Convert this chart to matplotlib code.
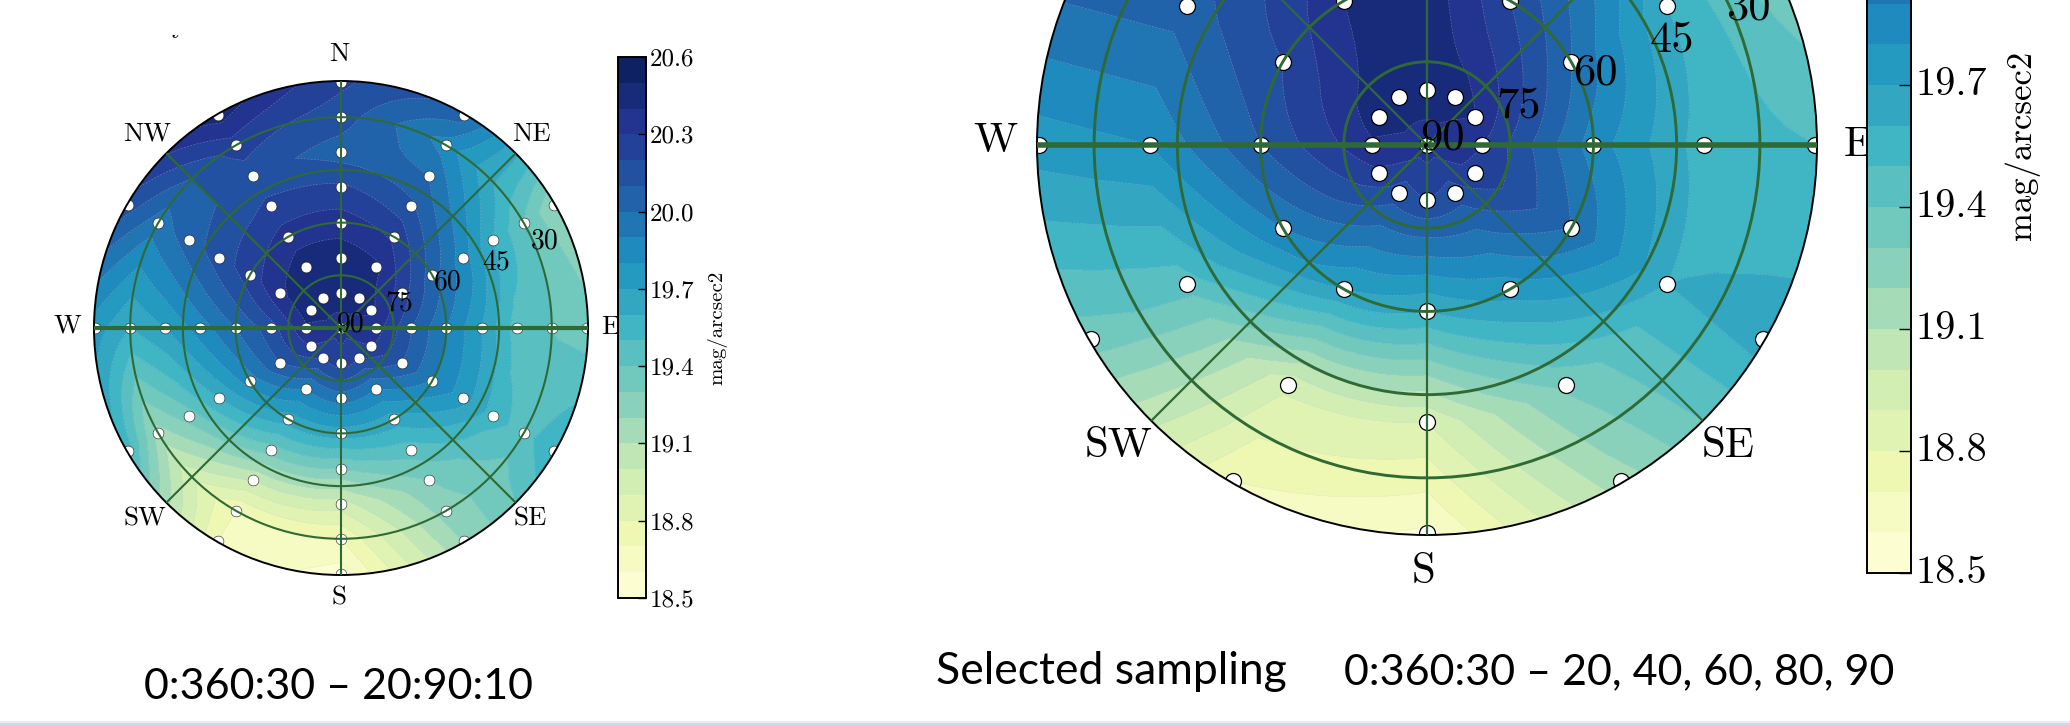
import numpy as np
import matplotlib
matplotlib.use("Agg")
import matplotlib.pyplot as plt
from matplotlib.patches import Rectangle
from matplotlib.transforms import Bbox, ScaledTranslation

W, H = 2070, 726
DPI = 100
SERIF = "cmr10"
plt.rcParams["axes.formatter.use_mathtext"] = True
plt.rcParams["axes.unicode_minus"] = False

azimuths = np.arange(0, 361, 30)
levels = np.round(np.arange(18.5, 20.65, 0.1), 1)
cbar_ticks = [18.5, 18.8, 19.1, 19.4, 19.7, 20.0, 20.3, 20.6]
cbar_labels = ["18.5", "18.8", "19.1", "19.4", "19.7", "20.0", "20.3", "20.6"]
ring_alts = [30, 45, 60, 75, 90]

left_alts = [20, 30, 40, 50, 60, 70, 80]
left_zenith = 20.35
left_values = [
    [20.22, 20.15, 20.05, 20.22, 20.35, 20.46, 20.46],  # 0
    [20.05, 19.85, 20.00, 20.12, 20.28, 20.42, 20.46],  # 30
    [19.20, 19.40, 19.60, 19.85, 20.05, 20.25, 20.42],  # 60
    [19.35, 19.40, 19.45, 19.70, 19.90, 20.10, 20.35],  # 90
    [19.60, 19.45, 19.55, 19.75, 19.90, 20.10, 20.30],  # 120
    [19.20, 19.25, 19.30, 19.45, 19.65, 19.90, 20.20],  # 150
    [18.55, 18.70, 18.95, 19.30, 19.65, 19.95, 20.25],  # 180
    [18.70, 18.70, 19.00, 19.35, 19.65, 19.90, 20.20],  # 210
    [19.55, 19.15, 19.35, 19.60, 19.85, 20.10, 20.30],  # 240
    [19.75, 19.60, 19.70, 19.85, 20.00, 20.15, 20.38],  # 270
    [20.15, 19.95, 20.05, 20.15, 20.25, 20.38, 20.46],  # 300
    [20.45, 20.25, 20.15, 20.22, 20.35, 20.46, 20.46],  # 330
]

right_alts = [20, 40, 60, 80]
right_zenith = 20.35
right_values = [
    [20.20, 20.10, 20.46, 20.46],  # 0
    [19.95, 19.95, 20.20, 20.46],  # 30
    [19.30, 19.60, 20.00, 20.40],  # 60
    [19.50, 19.55, 19.85, 20.30],  # 90
    [19.65, 19.60, 20.00, 20.28],  # 120
    [19.15, 19.32, 19.75, 20.15],  # 150
    [18.58, 18.90, 19.60, 20.20],  # 180
    [18.70, 18.92, 19.70, 20.15],  # 210
    [19.35, 19.45, 19.90, 20.28],  # 240
    [19.75, 19.80, 20.10, 20.38],  # 270
    [20.10, 20.05, 20.20, 20.46],  # 300
    [20.40, 20.20, 20.40, 20.46],  # 330
]


def fx(px):
    return px / W


def fy(py):
    return 1 - py / H


def box(x0, y0, x1, y1):
    return [fx(x0), fy(y1), (x1 - x0) / W, (y1 - y0) / H]


def sky(fig, cx, cy, radius, alts, values, zenith, ms, mew, ring_lw, spoke_lw, ew_lw, fs):
    ax = fig.add_axes(box(cx - radius, cy - radius, cx + radius, cy + radius), projection="polar")
    ax.set_theta_zero_location("N")
    ax.set_theta_direction(-1)
    rmax = 70.3
    zen = np.array([0] + [90 - a for a in alts[::-1]], float)
    rows = np.array(values + [values[0]])[:, ::-1]
    grid = np.column_stack([np.full(len(azimuths), zenith), rows, rows[:, -1]])
    zen_e = np.append(zen, rmax + 0.5)
    # resample along azimuth so that band edges follow the circular rim
    az_fine = np.arange(0, 360.1, 3)
    fine = np.column_stack([np.interp(az_fine, azimuths, grid[:, j]) for j in range(grid.shape[1])])
    T, R = np.meshgrid(np.deg2rad(az_fine), zen_e, indexing="ij")
    cf = ax.contourf(T, R, fine, levels=levels, cmap="YlGnBu", zorder=1)
    ax.contour(T, R, fine, levels=levels, colors="#c8d4e0", linewidths=0.45, alpha=0.4,
               linestyles="--", zorder=1.2)
    th = np.deg2rad(azimuths[:-1])
    ptT, ptR = np.meshgrid(th, zen[1:], indexing="ij")
    ax.plot(ptT.ravel(), ptR.ravel(), "o", mfc="white", mec="black", ms=ms, mew=mew, zorder=2)
    ax.plot([0], [0], "o", mfc="white", mec="black", ms=ms, mew=mew, zorder=2)
    ax.set_ylim(0, rmax)
    ax.set_thetagrids(np.arange(0, 360, 45), labels=[])
    ax.set_rgrids([15, 30, 45, 60], labels=[])
    ax.set_axisbelow(False)
    green = "#2f6a36"
    ax.xaxis.grid(True, color=green, lw=spoke_lw, ls="-")
    ax.yaxis.grid(True, color=green, lw=ring_lw, ls="-")
    for az in (90, 270):
        ax.plot(np.deg2rad([az, az]), [0, rmax], color=green, lw=ew_lw, zorder=3, solid_capstyle="butt")
    ax.spines["polar"].set_linewidth(1.4)
    for alt in ring_alts:
        ax.text(np.deg2rad(67), 90 - alt + 3, str(alt), fontsize=fs, family=SERIF, ha="center", va="center", zorder=4)
    return ax, cf


def colorbar(fig, cf, x0, x1, ytop, ybot, fs, ticklen, label_lift):
    cax = fig.add_axes(box(x0, ytop, x1, ybot), zorder=5)
    cb = fig.colorbar(cf, cax=cax, ticks=cbar_ticks)
    cb.ax.set_yticklabels(cbar_labels, fontsize=fs, family=SERIF)
    cb.ax.tick_params(direction="in", length=ticklen, width=1, pad=3, color="black")
    cb.outline.set_linewidth(1.4)
    cb.ax.minorticks_off()
    lift = ScaledTranslation(0, label_lift / DPI, fig.dpi_scale_trans)
    for lab in cb.ax.get_yticklabels():
        lab.set_transform(lab.get_transform() + lift)
    return cb


fig = plt.figure(figsize=(W / DPI, H / DPI), dpi=DPI, facecolor="white")

_, cf1 = sky(fig, 341, 328, 247, left_alts, left_values, left_zenith, 7.8, 0.35, 1.5, 1.5, 3.0, 20)
_, cf2 = sky(fig, 1427, 145, 390, right_alts, right_values, right_zenith, 11.5, 0.9, 2.1, 1.6, 4.0, 32)

colorbar(fig, cf1, 618, 646, 57, 598, 18, 5.5, 0)
colorbar(fig, cf2, 1867, 1911, -281, 573, 29, 9, 4)

left_dirs = [("N", 339, 54), ("NE", 531, 134), ("E", 610, 327), ("SE", 530, 519), ("S", 339, 598),
             ("SW", 145, 519), ("W", 67, 326), ("NW", 147, 134)]
right_dirs = [("W", 995, 141), ("E", 1858, 145), ("SE", 1728, 446), ("S", 1424, 572), ("SW", 1119, 446)]
for lbl, x, y in left_dirs:
    fig.text(fx(x), fy(y), lbl, fontsize=19.5, family=SERIF, ha="center", va="center", zorder=3)
for lbl, x, y in right_dirs:
    fig.text(fx(x), fy(y), lbl, fontsize=31, family=SERIF, ha="center", va="center", zorder=3)

fig.text(fx(717), fy(328), "mag/arcsec2", rotation=90, fontsize=15, family=SERIF, ha="center", va="center")
fig.text(fx(2022), fy(145), "mag/arcsec2", rotation=90, fontsize=25, family=SERIF, ha="center", va="center",
         fontweight="bold")

fig.text(fx(339), fy(687), "0:360:30 \u2013 20:90:10", fontsize=31, family="Lato", ha="center", va="center")
fig.text(fx(936), fy(672), "Selected sampling", fontsize=32, family="Lato", ha="left", va="center")
fig.text(fx(1894), fy(672), "0:360:30 \u2013 20, 40, 60, 80, 90", fontsize=31, family="Lato", ha="right", va="center")

# tail of a cropped title letter left at the top of the slide
tail = fig.text(fx(179), fy(33), "y", fontsize=19.5, family=SERIF, ha="center", va="baseline")
tail.set_clip_box(Bbox([[0, H - 41], [W, H - 35]]))
tail.set_clip_on(True)

# slide edge along the bottom
fig.add_artist(Rectangle((0, 0), 1, 3 / H, transform=fig.transFigure, facecolor="#c9dcea", edgecolor="none"))
fig.add_artist(Rectangle((0, 3 / H), 1, 2 / H, transform=fig.transFigure, facecolor="#e6eff6", edgecolor="none"))

fig.savefig("out.png", dpi=DPI)
